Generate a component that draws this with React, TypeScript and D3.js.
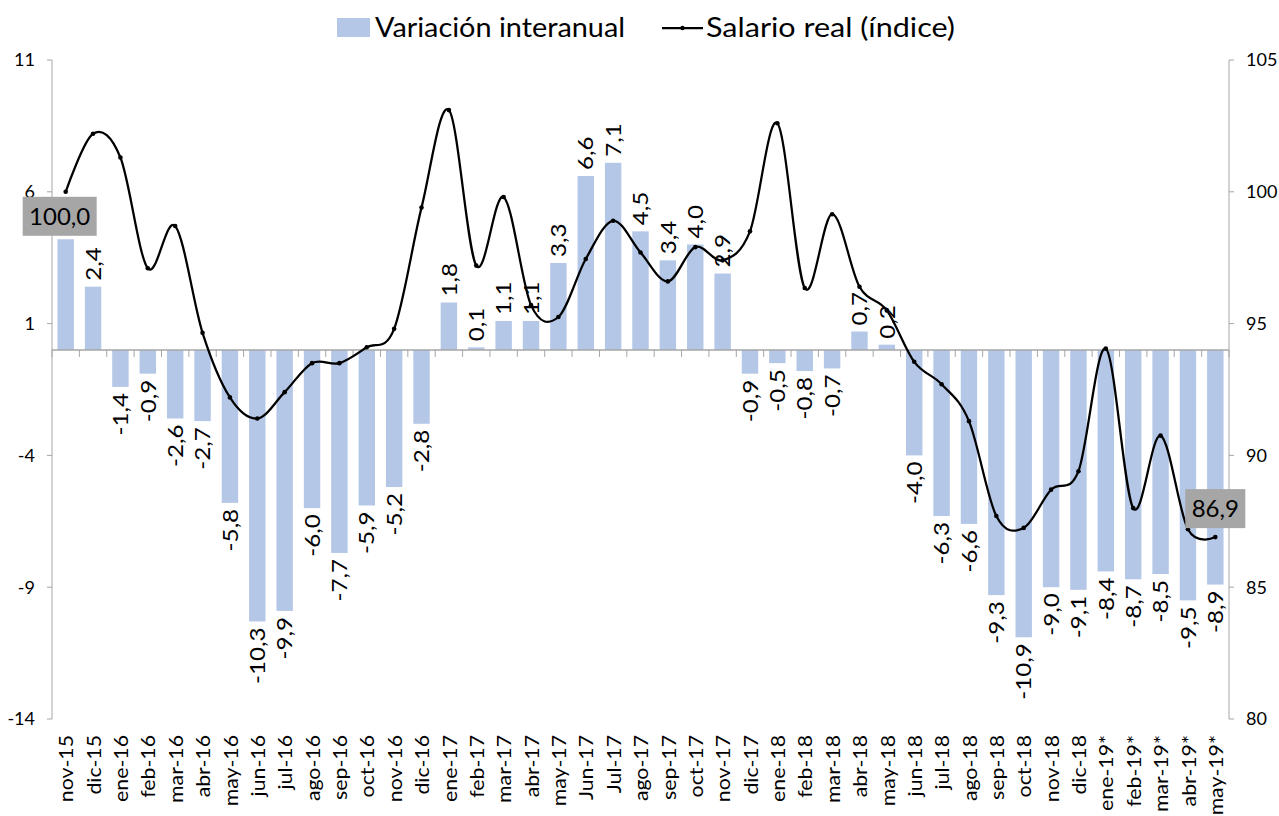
import React from 'react';
import * as d3 from 'd3';

const categories = [
  'nov-15', 'dic-15', 'ene-16', 'feb-16', 'mar-16', 'abr-16', 'may-16', 'jun-16', 'jul-16', 'ago-16',
  'sep-16', 'oct-16', 'nov-16', 'dic-16', 'ene-17', 'feb-17', 'mar-17', 'abr-17', 'may-17', 'Jun-17',
  'Jul-17', 'ago-17', 'sep-17', 'oct-17', 'nov-17', 'dic-17', 'ene-18', 'feb-18', 'mar-18', 'abr-18',
  'may-18', 'jun-18', 'jul-18', 'ago-18', 'sep-18', 'oct-18', 'nov-18', 'dic-18', 'ene-19*', 'feb-19*',
  'mar-19*', 'abr-19*', 'may-19*',
];

const variacion = [
  4.2, 2.4, -1.4, -0.9, -2.6, -2.7, -5.8, -10.3, -9.9, -6.0,
  -7.7, -5.9, -5.2, -2.8, 1.8, 0.1, 1.1, 1.1, 3.3, 6.6,
  7.1, 4.5, 3.4, 4.0, 2.9, -0.9, -0.5, -0.8, -0.7, 0.7,
  0.2, -4.0, -6.3, -6.6, -9.3, -10.9, -9.0, -9.1, -8.4, -8.7,
  -8.5, -9.5, -8.9,
];

const salario = [
  100.0, 102.2, 101.3, 97.1, 98.7, 94.65, 92.2, 91.4, 92.4, 93.5,
  93.5, 94.1, 94.8, 99.4, 103.1, 97.2, 99.8, 95.7, 95.25, 97.45,
  98.9, 97.7, 96.6, 97.9, 97.4, 98.5, 102.6, 96.35, 99.15, 96.4,
  95.5, 93.55, 92.7, 91.3, 87.7, 87.25, 88.7, 89.4, 94.05, 88.0,
  90.75, 87.2, 86.9,
];

const leftTicks = [11, 6, 1, -4, -9, -14];
const rightTicks = [105, 100, 95, 90, 85, 80];

const W = 1279;
const H = 816;
const left = 52;
const right = 1229;
const top = 60;
const bottom = 719;

const FONT = 'Lato, "Open Sans", sans-serif';
const BAR = '#b4c7e7';
const AXIS = '#a6a6a6';

// Spanish style: decimal comma, plain hyphen for the sign
const comma = (v: number) => d3.format('.1f')(v).replace('.', ',').replace('\u2212', '-');

export default function App() {
  const x = d3.scaleBand<string>().domain(categories).range([left, right]).paddingInner(0.4).paddingOuter(0.2);
  const yL = d3.scaleLinear().domain([-14, 11]).range([bottom, top]);
  const yR = d3.scaleLinear().domain([80, 105]).range([bottom, top]);
  const bw = x.bandwidth();
  const step = x.step();
  const cx = (c: string) => (x(c) as number) + bw / 2;
  const zero = yL(0);

  const line = d3
    .line<number>()
    .x((_, i) => cx(categories[i]))
    .y(d => yR(d))
    .curve(d3.curveCardinal.tension(0));

  const first = salario[0];
  const last = salario[salario.length - 1];
  const lastCat = categories[categories.length - 1];

  return (
    <svg width={W} height={H} style={{ position: 'fixed', left: 0, top: 0, background: '#fff' }} fontFamily={FONT}>
      {/* legend */}
      <g>
        <rect x={337} y={18} width={33} height={19} fill={BAR} />
        <text x={375} y={37} fontSize={26} fill="#000" textLength={250} lengthAdjust="spacingAndGlyphs">
          Variación interanual
        </text>
        <line x1={662} x2={703} y1={28} y2={28} stroke="#000" strokeWidth={2.25} />
        <circle cx={682.5} cy={28} r={2.2} fill="#000" />
        <text x={706} y={37} fontSize={26} fill="#000" textLength={249} lengthAdjust="spacingAndGlyphs">
          Salario real (índice)
        </text>
      </g>

      {/* bars */}
      {variacion.map((v, i) => (
        <rect
          key={categories[i]}
          x={x(categories[i])}
          y={Math.min(yL(v), zero)}
          width={bw}
          height={Math.abs(yL(v) - zero)}
          fill={BAR}
        />
      ))}

      {/* zero line + category ticks */}
      <line x1={left} x2={right} y1={zero} y2={zero} stroke={AXIS} strokeWidth={1.5} />
      {d3.range(categories.length + 1).map(i => {
        const xx = left + i * step;
        return <line key={'ct' + i} x1={xx} x2={xx} y1={zero} y2={zero + 7} stroke={AXIS} strokeWidth={1} />;
      })}

      {/* left axis */}
      <line x1={left} x2={left} y1={top} y2={bottom} stroke={AXIS} strokeWidth={1} />
      {leftTicks.map(t => (
        <g key={'l' + t}>
          <line x1={left - 5} x2={left} y1={yL(t)} y2={yL(t)} stroke={AXIS} />
          <text x={35} y={yL(t)} dy="0.35em" textAnchor="end" fontSize={18} fill="#000">
            {t}
          </text>
        </g>
      ))}

      {/* right axis */}
      <line x1={right} x2={right} y1={top} y2={bottom} stroke={AXIS} strokeWidth={1} />
      {rightTicks.map(t => (
        <g key={'r' + t}>
          <line x1={right} x2={right + 5} y1={yR(t)} y2={yR(t)} stroke={AXIS} />
          <text x={1246} y={yR(t)} dy="0.35em" textAnchor="start" fontSize={18} fill="#000">
            {t}
          </text>
        </g>
      ))}

      {/* category labels */}
      {categories.map(c => (
        <text
          key={'cl' + c}
          transform={`translate(${cx(c) + 1},735) rotate(-90) scale(1.12,1)`}
          dy="0.35em"
          textAnchor="end"
          fontSize={19}
          fill="#000"
        >
          {c}
        </text>
      ))}

      {/* bar value labels */}
      {variacion.map((v, i) => {
        const c = categories[i];
        const pos = v >= 0;
        const yy = pos ? yL(v) - 6 : yL(v) + 6;
        return (
          <text
            key={'bl' + c}
            transform={`translate(${cx(c)},${yy}) rotate(-90) scale(1.1,1)`}
            dy="0.35em"
            textAnchor={pos ? 'start' : 'end'}
            fontSize={22}
            fill="#000"
          >
            {comma(v)}
          </text>
        );
      })}

      {/* salario line */}
      <path d={line(salario) || ''} fill="none" stroke="#000" strokeWidth={2.25} />
      {salario.map((v, i) => (
        <circle key={'p' + i} cx={cx(categories[i])} cy={yR(v)} r={2.3} fill="#000" />
      ))}

      {/* first / last labels */}
      <g>
        <rect x={cx(categories[0]) - 43} y={yR(first) + 5} width={74} height={39} fill="#a6a6a6" />
        <text x={cx(categories[0]) - 6} y={yR(first) + 24.5} dy="0.35em" textAnchor="middle" fontSize={24} fill="#000">
          {comma(first)}
        </text>
        <rect x={cx(lastCat) - 30} y={yR(last) - 48} width={60} height={39} fill="#a6a6a6" />
        <text x={cx(lastCat)} y={yR(last) - 28.5} dy="0.35em" textAnchor="middle" fontSize={24} fill="#000">
          {comma(last)}
        </text>
      </g>
    </svg>
  );
}
